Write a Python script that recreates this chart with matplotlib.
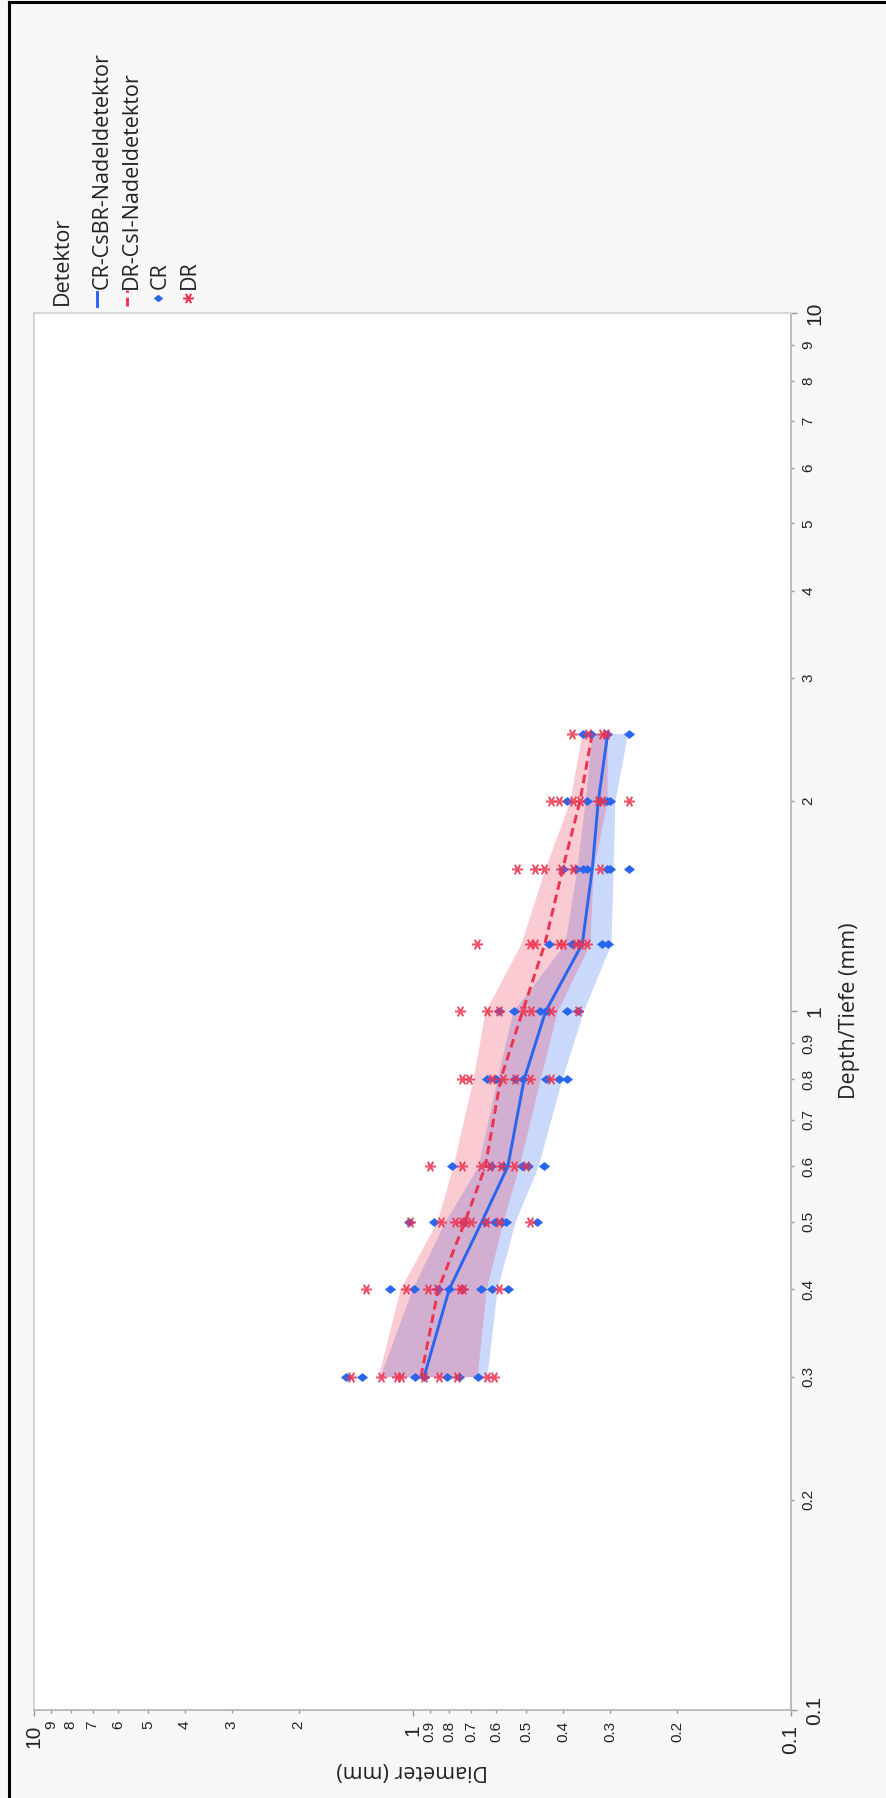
import numpy as np
import matplotlib
matplotlib.use('Agg')
import matplotlib.pyplot as plt
from matplotlib.lines import Line2D
from matplotlib.path import Path

# depth levels (mm) and the measured diameters (mm) per level
depth_levels = [0.3, 0.4, 0.5, 0.6, 0.8, 1.0, 1.25, 1.6, 2.0, 2.5]

cr_diam = [
    [1.50, 1.36, 0.985, 0.93, 0.81, 0.755, 0.67],
    [1.15, 0.99, 0.855, 0.80, 0.74, 0.66, 0.615, 0.56],
    [1.02, 0.875, 0.73, 0.645, 0.605, 0.58, 0.565, 0.47],
    [0.785, 0.62, 0.575, 0.515, 0.495, 0.45],
    [0.635, 0.60, 0.535, 0.51, 0.445, 0.41, 0.39],
    [0.59, 0.54, 0.46, 0.445, 0.39, 0.365],
    [0.435, 0.38, 0.36, 0.315, 0.305],
    [0.40, 0.37, 0.355, 0.345, 0.307, 0.30, 0.268],
    [0.39, 0.345, 0.32, 0.307, 0.30],
    [0.355, 0.338, 0.306, 0.268],
]
dr_diam = [
    [1.45, 1.21, 1.10, 1.07, 0.935, 0.85, 0.765, 0.635, 0.61],
    [1.33, 1.04, 0.91, 0.86, 0.75, 0.735, 0.59],
    [1.015, 0.84, 0.77, 0.74, 0.725, 0.70, 0.64, 0.59, 0.49],
    [0.90, 0.74, 0.66, 0.625, 0.585, 0.54, 0.50],
    [0.74, 0.71, 0.615, 0.575, 0.535, 0.49, 0.43],
    [0.75, 0.635, 0.59, 0.51, 0.485, 0.43, 0.365],
    [0.675, 0.49, 0.475, 0.41, 0.40, 0.37, 0.36, 0.345],
    [0.53, 0.475, 0.45, 0.405, 0.377, 0.32],
    [0.43, 0.41, 0.377, 0.36, 0.323, 0.315, 0.268],
    [0.38, 0.343, 0.316, 0.308],
]

# fitted lines and their bands
cr_line = [0.932, 0.80, 0.656, 0.56, 0.507, 0.445, 0.356, 0.335, 0.323, 0.305]
dr_line = [0.95, 0.855, 0.727, 0.642, 0.585, 0.512, 0.447, 0.401, 0.361, 0.335]
cr_band_hi = [1.219, 1.003, 0.821, 0.671, 0.598, 0.543, 0.396, 0.368, 0.350, 0.336]
cr_band_lo = [0.636, 0.598, 0.536, 0.466, 0.403, 0.354, 0.299, 0.295, 0.292, 0.270]
dr_band_hi = [1.233, 1.079, 0.862, 0.782, 0.692, 0.643, 0.517, 0.447, 0.384, 0.357]
dr_band_lo = [0.675, 0.639, 0.577, 0.523, 0.460, 0.415, 0.340, 0.333, 0.306, 0.306]

major_ticks = [0.1, 1, 10]
major_labels = ['0.1', '1', '10']
minor_ticks = [0.2, 0.3, 0.4, 0.5, 0.6, 0.7, 0.8, 0.9, 2, 3, 4, 5, 6, 7, 8, 9]
minor_labels = ['0.2', '0.3', '0.4', '0.5', '0.6', '0.7', '0.8', '0.9',
                '2', '3', '4', '5', '6', '7', '8', '9']

legend_title = 'Detektor'
legend_entries = ['CR-CsBR-Nadeldetektor', 'DR-CsI-Nadeldetektor', 'CR', 'DR']

BLUE = '#2966f0'
RED = '#ee3350'
W, H = 886, 1798


def fx(px):
    return px / W


def fy(py):
    return 1 - py / H


# flat diamond (chart is turned by 90 degrees)
diamond = Path([(-1, 0), (0, 0.8), (1, 0), (0, -0.8), (-1, 0)],
               [Path.MOVETO, Path.LINETO, Path.LINETO, Path.LINETO, Path.CLOSEPOLY])
aster = (6, 2, 90)

fig = plt.figure(figsize=(W / 100, H / 100), dpi=100, facecolor='#f7f7f7')
ax = fig.add_axes([fx(34), fy(1710), fx(791) - fx(34), fy(313) - fy(1710)])
ax.set_facecolor('white')

# diameter runs along the horizontal axis, depth along the vertical one
ax.fill_betweenx(depth_levels, cr_band_lo, cr_band_hi, color=BLUE, alpha=0.25, lw=0)
ax.fill_betweenx(depth_levels, dr_band_lo, dr_band_hi, color=RED, alpha=0.25, lw=0)
ax.plot(cr_line, depth_levels, color=BLUE, lw=2.1, solid_capstyle='butt')
ax.plot(dr_line, depth_levels, color=RED, lw=2.1, dashes=(3, 1.7))

for d, vals in zip(depth_levels, cr_diam):
    ax.plot(vals, [d] * len(vals), ls='none', marker=diamond, ms=8,
            color=BLUE, mec=BLUE, mew=0)
for d, vals in zip(depth_levels, dr_diam):
    ax.plot(vals, [d] * len(vals), ls='none', marker=aster, ms=7.8,
            color=RED, mec=RED, mew=1.1, alpha=0.85)

ax.set_xscale('log')
ax.set_yscale('log')
ax.set_xlim(10, 0.1)
ax.set_ylim(0.1, 10)

ax.set_xticks(major_ticks, labels=major_labels)
ax.set_xticks(minor_ticks, labels=minor_labels, minor=True)
ax.set_yticks(major_ticks, labels=major_labels)
ax.set_yticks(minor_ticks, labels=minor_labels, minor=True)
ax.yaxis.tick_right()

tick_font = 'Liberation Sans'
for axis in (ax.xaxis, ax.yaxis):
    for lab in axis.get_majorticklabels():
        lab.set_fontfamily(tick_font)
        lab.set_fontsize(15)
    for lab in axis.get_minorticklabels():
        lab.set_fontfamily(tick_font)
        lab.set_fontsize(11)
ax.tick_params(axis='both', which='both', labelrotation=90, colors='#999999',
               labelcolor='#222222')
ax.tick_params(axis='both', which='major', length=4.5, width=1, pad=6)
ax.tick_params(axis='both', which='minor', length=2.2, width=1, pad=5.5)
for lab in ax.yaxis.get_ticklabels(which='both'):
    lab.set_verticalalignment('center')

for side in ('top', 'left'):
    ax.spines[side].set_color('#d6d6d6')
    ax.spines[side].set_linewidth(1.5)
for side in ('bottom', 'right'):
    ax.spines[side].set_color('#b0b0b0')
    ax.spines[side].set_linewidth(1.2)

lab_font = 'Open Sans'
fig.text(fx(412.5), fy(1770), 'Diameter (mm)', rotation=180, ha='center',
         va='center', fontsize=15.5, family=lab_font, color='#222222')
fig.text(fx(850), fy(1011), 'Depth/Tiefe (mm)', rotation=90, ha='center',
         va='center', fontsize=15.5, family=lab_font, color='#222222')

# legend, drawn by hand because it is turned as well
fig.text(fx(62), fy(305), legend_title, rotation=90, ha='center', va='bottom',
         fontsize=15.5, family=lab_font, color='#222222')
text_x = [102, 131, 160, 189]
for x, name in zip(text_x, legend_entries):
    fig.text(fx(x), fy(289), name, rotation=90, ha='center', va='bottom',
             fontsize=15.5, family=lab_font, color='#222222')
fig.add_artist(Line2D([fx(97), fx(97)], [fy(306), fy(292)], color=BLUE, lw=2.1,
                      transform=fig.transFigure))
fig.add_artist(Line2D([fx(127), fx(127)], [fy(306), fy(290)], color=RED, lw=2.1,
                      dashes=(3, 1.7), transform=fig.transFigure))
fig.add_artist(Line2D([fx(158)], [fy(298)], ls='none', marker=diamond, ms=6.8,
                      color=BLUE, mew=0, transform=fig.transFigure))
fig.add_artist(Line2D([fx(188)], [fy(298)], ls='none', marker=aster, ms=7.5,
                      color=RED, mec=RED, mew=1.1, transform=fig.transFigure))

# outer frame on the left and top edges
fig.add_artist(Line2D([fx(8.5), fx(8.5)], [0, fy(1.5)], color='black', lw=2.2,
                      transform=fig.transFigure))
fig.add_artist(Line2D([fx(8.5), 1], [fy(2), fy(2)], color='black', lw=2.2,
                      transform=fig.transFigure))

fig.savefig('out.png', dpi=100, facecolor=fig.get_facecolor())
